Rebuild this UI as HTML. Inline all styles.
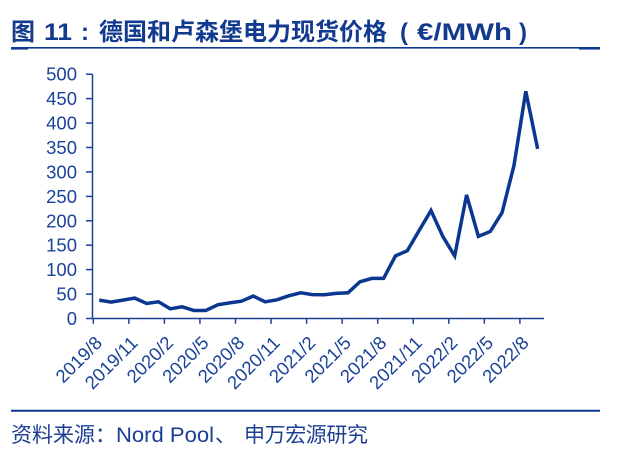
<!DOCTYPE html>
<html>
<head>
<meta charset="utf-8">
<style>
  html,body{margin:0;padding:0;background:#fff;}
  body{width:617px;height:475px;overflow:hidden;}
  svg{display:block;}
  .t{font-family:"Liberation Sans","Noto Sans CJK SC",sans-serif;}
</style>
</head>
<body>
<svg width="617" height="475" viewBox="0 0 617 475" xmlns="http://www.w3.org/2000/svg">
  <rect width="617" height="475" fill="#fff"/>

  <!-- Title -->
  <g class="t" fill="#123a8f" font-weight="bold" font-size="24">
    <text x="11" y="40">图</text>
    <text x="44" y="40" textLength="28" lengthAdjust="spacingAndGlyphs">11</text>
    <text x="81" y="40">:</text>
    <text x="99" y="40" textLength="288" lengthAdjust="spacing">德国和卢森堡电力现货价格</text>
    <text x="400" y="40">(</text>
    <text x="417" y="40" textLength="95" lengthAdjust="spacingAndGlyphs">€/MWh</text>
    <text x="519" y="40">)</text>
  </g>
  <!-- title underline -->
  <line x1="11" y1="47.8" x2="600" y2="47.8" stroke="#0e3a92" stroke-width="1.6"/>
  <rect x="11" y="47" width="17" height="2.6" fill="#0e3a92"/>
  <rect x="579" y="47" width="21" height="2.6" fill="#0e3a92"/>

  <!-- Axes -->
  <g stroke="#1a4298" stroke-width="1.5" fill="none">
    <line x1="92.5" y1="74.2" x2="92.5" y2="318.5"/>
    <line x1="92.5" y1="318.5" x2="544" y2="318.5"/>
    <!-- y ticks -->
    <line x1="86" y1="74.2" x2="92.5" y2="74.2"/>
    <line x1="86" y1="98.6" x2="92.5" y2="98.6"/>
    <line x1="86" y1="123.1" x2="92.5" y2="123.1"/>
    <line x1="86" y1="147.5" x2="92.5" y2="147.5"/>
    <line x1="86" y1="171.9" x2="92.5" y2="171.9"/>
    <line x1="86" y1="196.4" x2="92.5" y2="196.4"/>
    <line x1="86" y1="220.8" x2="92.5" y2="220.8"/>
    <line x1="86" y1="245.2" x2="92.5" y2="245.2"/>
    <line x1="86" y1="269.6" x2="92.5" y2="269.6"/>
    <line x1="86" y1="294.1" x2="92.5" y2="294.1"/>
    <line x1="86" y1="318.5" x2="92.5" y2="318.5"/>
    <!-- x ticks -->
    <line x1="93.3" y1="318.5" x2="93.3" y2="323.8"/>
    <line x1="128.85" y1="318.5" x2="128.85" y2="323.8"/>
    <line x1="164.4" y1="318.5" x2="164.4" y2="323.8"/>
    <line x1="199.95" y1="318.5" x2="199.95" y2="323.8"/>
    <line x1="235.5" y1="318.5" x2="235.5" y2="323.8"/>
    <line x1="271.05" y1="318.5" x2="271.05" y2="323.8"/>
    <line x1="306.6" y1="318.5" x2="306.6" y2="323.8"/>
    <line x1="342.15" y1="318.5" x2="342.15" y2="323.8"/>
    <line x1="377.7" y1="318.5" x2="377.7" y2="323.8"/>
    <line x1="413.25" y1="318.5" x2="413.25" y2="323.8"/>
    <line x1="448.8" y1="318.5" x2="448.8" y2="323.8"/>
    <line x1="484.35" y1="318.5" x2="484.35" y2="323.8"/>
    <line x1="519.9" y1="318.5" x2="519.9" y2="323.8"/>
  </g>

  <!-- Y labels -->
  <g class="t" fill="#1a4298" font-size="18.5" text-anchor="end">
    <text x="77" y="80.7">500</text>
    <text x="77" y="105.1">450</text>
    <text x="77" y="129.6">400</text>
    <text x="77" y="154.0">350</text>
    <text x="77" y="178.4">300</text>
    <text x="77" y="202.9">250</text>
    <text x="77" y="227.3">200</text>
    <text x="77" y="251.7">150</text>
    <text x="77" y="276.1">100</text>
    <text x="77" y="300.6">50</text>
    <text x="77" y="325.0">0</text>
  </g>

  <!-- X labels -->
  <g class="t" fill="#1a4298" font-size="18.5" text-anchor="end">
    <text transform="translate(103.3,344) rotate(-45)">2019/8</text>
    <text transform="translate(138.85,344) rotate(-45)">2019/11</text>
    <text transform="translate(174.4,344) rotate(-45)">2020/2</text>
    <text transform="translate(209.95,344) rotate(-45)">2020/5</text>
    <text transform="translate(245.5,344) rotate(-45)">2020/8</text>
    <text transform="translate(281.05,344) rotate(-45)">2020/11</text>
    <text transform="translate(316.6,344) rotate(-45)">2021/2</text>
    <text transform="translate(352.15,344) rotate(-45)">2021/5</text>
    <text transform="translate(387.7,344) rotate(-45)">2021/8</text>
    <text transform="translate(423.25,344) rotate(-45)">2021/11</text>
    <text transform="translate(458.8,344) rotate(-45)">2022/2</text>
    <text transform="translate(494.35,344) rotate(-45)">2022/5</text>
    <text transform="translate(529.9,344) rotate(-45)">2022/8</text>
  </g>

  <!-- Data series -->
  <polyline fill="none" stroke="#0b3791" stroke-width="3.5" stroke-linejoin="miter" stroke-miterlimit="4" stroke-linecap="butt"
    points="99.2,300.1 111.05,302.1 122.9,300.1 134.75,298.1 146.6,303.5 158.45,301.8 170.3,308.8 182.15,306.8 194.0,310.5 205.85,310.5 217.7,304.8 229.55,302.9 241.4,301.2 253.25,296.1 265.1,301.8 276.95,299.8 288.8,295.8 300.65,292.8 312.5,294.6 324.35,294.8 336.2,293.4 348.05,292.8 359.9,281.8 371.75,278.4 383.6,278.4 395.45,255.9 407.3,250.7 419.15,230.5 431.0,210.5 442.85,236.6 454.7,255.9 466.55,194.9 478.4,236.4 490.25,231.5 502.1,212.5 513.95,165.6 525.8,91.3 537.65,148.9"/>

  <!-- bottom rule -->
  <line x1="11" y1="410.7" x2="600" y2="410.7" stroke="#0e3a92" stroke-width="2"/>

  <!-- Source -->
  <g class="t" fill="#1c3f94" font-size="21">
    <text x="11" y="442" textLength="84" lengthAdjust="spacing">资料来源</text>
    <text x="95" y="442">：</text>
    <text x="116" y="442" textLength="98" lengthAdjust="spacingAndGlyphs">Nord Pool</text>
    <text x="215" y="442">、</text>
    <text x="244" y="442" textLength="124" lengthAdjust="spacing">申万宏源研究</text>
  </g>
</svg>
</body>
</html>
